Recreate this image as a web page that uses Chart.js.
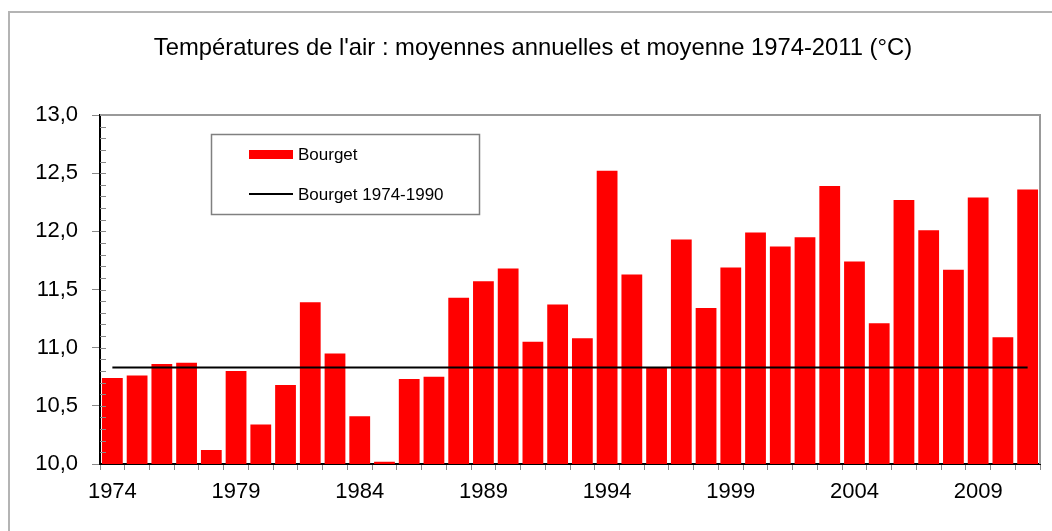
<!DOCTYPE html>
<html>
<head>
<meta charset="utf-8">
<title>Températures de l'air - Bourget</title>
<script src="https://cdn.jsdelivr.net/npm/chart.js@4"></script>
<style>
  html, body { margin: 0; padding: 0; background: #fff; }
  #wrap { width: 1052px; height: 531px; position: relative; }
</style>
</head>
<body>
<div id="wrap"><canvas id="tempChart" width="1052" height="531"></canvas></div>
<script>
// Annual mean air temperature at Le Bourget (°C)
const years = [
  1974, 1975, 1976, 1977, 1978, 1979, 1980, 1981, 1982, 1983,
  1984, 1985, 1986, 1987, 1988, 1989, 1990, 1991, 1992, 1993,
  1994, 1995, 1996, 1997, 1998, 1999, 2000, 2001, 2002, 2003,
  2004, 2005, 2006, 2007, 2008, 2009, 2010, 2011
];
const bourget = [
  10.74, 10.76, 10.86, 10.87, 10.12, 10.80, 10.34, 10.68, 11.39, 10.95,
  10.41, 10.02, 10.73, 10.75, 11.43, 11.57, 11.68, 11.05, 11.37, 11.08,
  12.52, 11.63, 10.83, 11.93, 11.34, 11.69, 11.99, 11.87, 11.95, 12.39,
  11.74, 11.21, 12.27, 12.01, 11.67, 12.29, 11.09, 12.36
];
// reference mean 1974-1990, same value for every year
const bourgetRef = [
  10.83, 10.83, 10.83, 10.83, 10.83, 10.83, 10.83, 10.83, 10.83, 10.83,
  10.83, 10.83, 10.83, 10.83, 10.83, 10.83, 10.83, 10.83, 10.83, 10.83,
  10.83, 10.83, 10.83, 10.83, 10.83, 10.83, 10.83, 10.83, 10.83, 10.83,
  10.83, 10.83, 10.83, 10.83, 10.83, 10.83, 10.83, 10.83
];
const yTicks = [10.0, 10.5, 11.0, 11.5, 12.0, 12.5, 13.0];

const TITLE = "Températures de l'air : moyennes annuelles et moyenne 1974-2011 (°C)";
const FONT = "'Liberation Sans', Arial, sans-serif";

// frame, title, plot border, minor ticks and the legend box
const decorations = {
    id: 'decorations',
    beforeDraw(chart) {
        const ctx = chart.ctx;
        ctx.save();
        ctx.fillStyle = '#fff';
        ctx.fillRect(0, 0, chart.width, chart.height);
        ctx.strokeStyle = '#b4b4b4';
        ctx.lineWidth = 2;
        ctx.strokeRect(9, 12, chart.width + 20, chart.height + 20);
        ctx.restore();
    },
    afterDatasetsDraw(chart) {
        const ctx = chart.ctx;
        const area = chart.chartArea;
        const y = chart.scales.y;
        ctx.save();

        // top and right border of the plot area
        ctx.strokeStyle = '#999';
        ctx.lineWidth = 2;
        ctx.beginPath();
        ctx.moveTo(area.left, area.top);
        ctx.lineTo(area.right, area.top);
        ctx.lineTo(area.right, area.bottom);
        ctx.stroke();

        // minor ticks every 0.1 inside the axis
        ctx.strokeStyle = '#888';
        ctx.lineWidth = 1;
        ctx.beginPath();
        for (let i = 1; i < 30; i++) {
            const py = Math.round(y.getPixelForValue(10 + i / 10)) + 0.5;
            ctx.moveTo(area.left, py);
            ctx.lineTo(area.left + 6, py);
        }
        ctx.stroke();

        // title
        ctx.fillStyle = '#000';
        ctx.font = '23.8px ' + FONT;
        ctx.textAlign = 'center';
        ctx.textBaseline = 'alphabetic';
        ctx.fillText(TITLE, 533, 55);

        // legend
        const bx = 211.5, by = 134.5, bw = 268, bh = 80;
        ctx.fillStyle = '#fff';
        ctx.fillRect(bx, by, bw, bh);
        ctx.strokeStyle = '#808080';
        ctx.lineWidth = 1.5;
        ctx.strokeRect(bx, by, bw, bh);

        const dsBar = chart.data.datasets[0];
        const dsLine = chart.data.datasets[1];
        ctx.fillStyle = dsBar.backgroundColor;
        ctx.fillRect(249, 150, 44, 9);
        ctx.strokeStyle = dsLine.borderColor;
        ctx.lineWidth = 2;
        ctx.beginPath();
        ctx.moveTo(249, 194);
        ctx.lineTo(293, 194);
        ctx.stroke();

        ctx.fillStyle = '#000';
        ctx.font = '17px ' + FONT;
        ctx.textAlign = 'left';
        ctx.textBaseline = 'middle';
        ctx.fillText(dsBar.label, 298, 155);
        ctx.fillText(dsLine.label, 298, 195);
        ctx.restore();
    }
};

document.addEventListener("DOMContentLoaded", () => {
    const ctx = document.getElementById('tempChart').getContext('2d');
    new Chart(ctx, {
        type: 'bar',
        data: {
            labels: years,
            datasets: [{
                label: 'Bourget',
                data: bourget,
                backgroundColor: '#ff0000',
                borderWidth: 0,
                categoryPercentage: 1.0,
                barPercentage: 0.84,
                order: 2
            }, {
                type: 'line',
                label: 'Bourget 1974-1990',
                data: bourgetRef,
                borderColor: '#000',
                borderWidth: 2,
                pointRadius: 0,
                fill: false,
                order: 1
            }]
        },
        options: {
            responsive: false,
            animation: false,
            layout: { padding: { top: 115, right: 12, bottom: 0, left: 0 } },
            plugins: {
                legend: { display: false },
                title: { display: false },
                tooltip: { enabled: false }
            },
            scales: {
                x: {
                    offset: true,
                    afterFit: (scale) => { scale.height = 67; },
                    grid: {
                        offset: true,
                        drawOnChartArea: false,
                        drawTicks: true,
                        tickLength: 6,
                        color: '#888'
                    },
                    border: { color: '#000', width: 2 },
                    ticks: {
                        autoSkip: false,
                        maxRotation: 0,
                        padding: 9,
                        color: '#000',
                        font: { family: FONT, size: 22 },
                        callback: function (val, i) {
                            return i % 5 === 0 ? String(years[i]) : '';
                        }
                    }
                },
                y: {
                    min: 10,
                    max: 13,
                    afterFit: (scale) => { scale.width = 100; },
                    afterBuildTicks: (scale) => {
                        scale.ticks = yTicks.map(v => ({ value: v }));
                    },
                    grid: {
                        drawOnChartArea: false,
                        drawTicks: true,
                        tickLength: 8,
                        color: '#888'
                    },
                    border: { color: '#000', width: 2 },
                    ticks: {
                        padding: 14,
                        color: '#000',
                        font: { family: FONT, size: 22 },
                        callback: (v) => Number(v).toFixed(1).replace('.', ',')
                    }
                }
            }
        },
        plugins: [decorations]
    });
});
</script>
</body>
</html>
